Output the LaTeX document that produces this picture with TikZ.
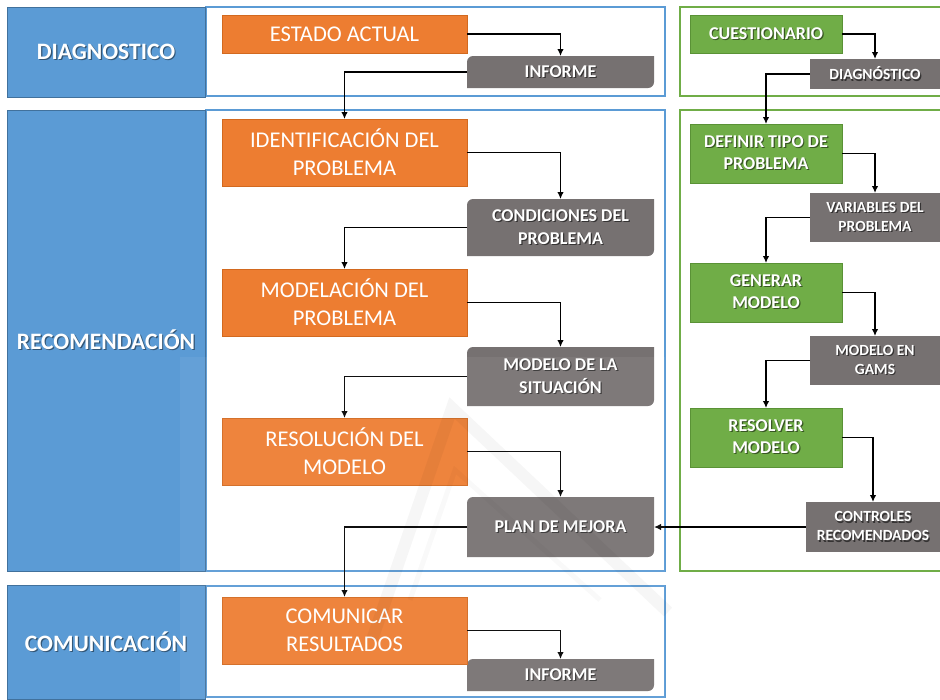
\documentclass[tikz,border=0pt]{standalone}
\usepackage{fontspec}
\setmainfont{Carlito}
\usetikzlibrary{arrows.meta}
\pgfdeclarelayer{frames}
\pgfdeclarelayer{background}
\pgfdeclarelayer{front}
\pgfsetlayers{frames,background,main,front}

\definecolor{bluefill}{HTML}{5B9BD5}
\definecolor{blueedge}{HTML}{41719C}
\definecolor{orangefill}{HTML}{ED7D31}
\definecolor{orangeedge}{HTML}{D2691F}
\definecolor{greenfill}{HTML}{70AD47}
\definecolor{greenedge}{HTML}{5A9236}
\definecolor{grayfill}{HTML}{767171}
\colorlet{shadowc}{black}

% white text with a small drop shadow
\newcommand\shd[1]{\makebox[0pt][l]{\hspace{1.2pt}\raisebox{-1.2pt}{\color{shadowc}#1}}#1}

\tikzset{
  box/.style={inner sep=0pt, outer sep=0pt, align=center, text=white},
  labelbox/.style={box, fill=bluefill, draw=blueedge, line width=0.8pt,
    font={\colorlet{shadowc}{bluefill!55!black}\bfseries\fontsize{23.5}{28}\selectfont}},
  blueframe/.style={box, fill=white, draw=bluefill, line width=2.3pt},
  greenframe/.style={box, fill=white, draw=greenfill, line width=2.3pt},
  orangebox/.style={box, fill=orangefill, draw=orangeedge, line width=0.8pt,
    minimum width=245pt, font=\fontsize{22.5}{28}\selectfont},
  greenbox/.style={box, fill=greenfill, draw=greenedge, line width=0.6pt,
    minimum width=152pt,
    font={\colorlet{shadowc}{greenfill!50!black}\bfseries\fontsize{18}{22}\selectfont}},
  resultbox/.style={box, minimum width=187pt,
    font={\colorlet{shadowc}{grayfill!45!black}\bfseries\fontsize{18}{23}\selectfont}},
  outputbox/.style={box, fill=grayfill,
    font={\colorlet{shadowc}{grayfill!45!black}\bfseries\fontsize{15.5}{19}\selectfont}},
  link/.style={draw=black, line width=1.9pt,
    -{Latex[length=7pt,width=6.5pt]}},
}

% grey result shape: rounded top-left and bottom-right corners
\newcommand\resultshape[1]{%
  \fill[grayfill] (#1.south west) -- ([yshift=-6pt]#1.north west)
    arc[start angle=180, end angle=90, radius=6pt] -- (#1.north east)
    -- ([yshift=6pt]#1.south east)
    arc[start angle=0, end angle=-90, radius=6pt] -- cycle;}

\begin{document}
\begin{tikzpicture}[x=1pt, y=-1pt]
\useasboundingbox (0,0) rectangle (940,699);
\clip (0,0) rectangle (940,699);

\begin{pgfonlayer}{frames}
% stage frames
\node[blueframe, minimum width=459pt, minimum height=89pt]  (f1) at (435.5,51.5) {};
\node[blueframe, minimum width=459pt, minimum height=461pt] (f2) at (435.5,340.5) {};
\node[blueframe, minimum width=459pt, minimum height=111pt] (f3) at (435.5,641.5) {};
\node[greenframe, minimum width=265pt, minimum height=89pt]  (g1) at (812.5,51.5) {};
\node[greenframe, minimum width=265pt, minimum height=461pt] (g2) at (812.5,340.5) {};
\end{pgfonlayer}

% stage labels
\node[labelbox, minimum width=198pt, minimum height=90pt]  (ldiag) at (106,52)    {\shd{DIAGNOSTICO}};
\node[labelbox, minimum width=198pt, minimum height=461pt] (lrec)  at (106,340.5) {\shd{RECOMENDACIÓN}};
\node[labelbox, minimum width=198pt, minimum height=114pt] (lcom)  at (106,642)   {\shd{COMUNICACIÓN}};

% process steps
\node[orangebox, minimum height=38pt] (estado) at (344.5,34)    {ESTADO ACTUAL};
\node[orangebox, minimum height=67pt] (ident)  at (344.5,152.5) {IDENTIFICACIÓN DEL\\PROBLEMA};
\node[orangebox, minimum height=67pt] (model)  at (344.5,302.5) {MODELACIÓN DEL\\PROBLEMA};
\node[orangebox, minimum height=67pt] (resol)  at (344.5,451.5) {RESOLUCIÓN DEL\\MODELO};
\node[orangebox, minimum height=67pt] (comun)  at (344.5,630.5) {COMUNICAR\\RESULTADOS};

% results of each step
\node[resultbox, minimum height=32pt] (inf1) at (560.5,72)    {\shd{INFORME}};
\node[resultbox, minimum height=57pt] (cond) at (560.5,227.5) {\shd{CONDICIONES DEL}\\\shd{PROBLEMA}};
\node[resultbox, minimum height=59pt] (msit) at (560.5,376.5) {\shd{MODELO DE LA}\\\shd{SITUACIÓN}};
\node[resultbox, minimum height=60pt] (plan) at (560.5,527)   {\shd{PLAN DE MEJORA}};
\node[resultbox, minimum height=32pt] (inf2) at (560.5,675)   {\shd{INFORME}};

\begin{pgfonlayer}{background}
  \resultshape{inf1}
  \resultshape{cond}
  \resultshape{msit}
  \resultshape{plan}
  \resultshape{inf2}
\end{pgfonlayer}

% tool chain
\node[greenbox, minimum height=38pt] (cuest)  at (766,34)    {\shd{CUESTIONARIO}};
\node[greenbox, minimum height=59pt] (defin)  at (766,153.5) {\shd{DEFINIR TIPO DE}\\\shd{PROBLEMA}};
\node[greenbox, minimum height=59pt] (gener)  at (766,292.5) {\shd{GENERAR}\\\shd{MODELO}};
\node[greenbox, minimum height=59pt] (resolv) at (766,437.5) {\shd{RESOLVER}\\\shd{MODELO}};

\node[outputbox, minimum width=130pt, minimum height=30pt] (odiag) at (875,74)    {\shd{DIAGNÓSTICO}};
\node[outputbox, minimum width=130pt, minimum height=49pt] (ovars) at (875,217.5) {\shd{VARIABLES DEL}\\\shd{PROBLEMA}};
\node[outputbox, minimum width=130pt, minimum height=49pt] (ogams) at (875,360.5) {\shd{MODELO EN}\\\shd{GAMS}};
\node[outputbox, minimum width=134pt, minimum height=50pt] (octrl) at (873,527)   {\shd{CONTROLES}\\\shd{RECOMENDADOS}};

% connectors
\draw[link] (estado.east) -| (inf1.north);
\draw[link] (inf1.west)   -| (ident.north);
\draw[link] (ident.east)  -| (cond.north);
\draw[link] (cond.west)   -| (model.north);
\draw[link] (model.east)  -| (msit.north);
\draw[link] (msit.west)   -| (resol.north);
\draw[link] (resol.east)  -| (plan.north);
\draw[link] (plan.west)   -| (comun.north);
\draw[link] (comun.east)  -| (inf2.north);

\draw[link] (cuest.east)  -| (odiag.north);
\draw[link] (odiag.west)  -| (defin.north);
\draw[link] (defin.east)  -| (ovars.north);
\draw[link] (ovars.west)  -| (gener.north);
\draw[link] (gener.east)  -| (ogams.north);
\draw[link] (ogams.west)  -| (resolv.north);
\draw[link] (resolv.east) -| (octrl.north);
\draw[link] (octrl.west)  -- (plan.east);

% faint logo watermark
\begin{pgfonlayer}{front}
  \fill[white, opacity=0.06] (180,357) rectangle (665,699);
  \draw[black, opacity=0.035, line width=12pt, line join=miter]
    (372,640) -- (452,408) -- (668,612);
  \draw[black, opacity=0.025, line width=5pt]
    (410,600) -- (455,470) -- (600,600);
\end{pgfonlayer}
\end{tikzpicture}
\end{document}
